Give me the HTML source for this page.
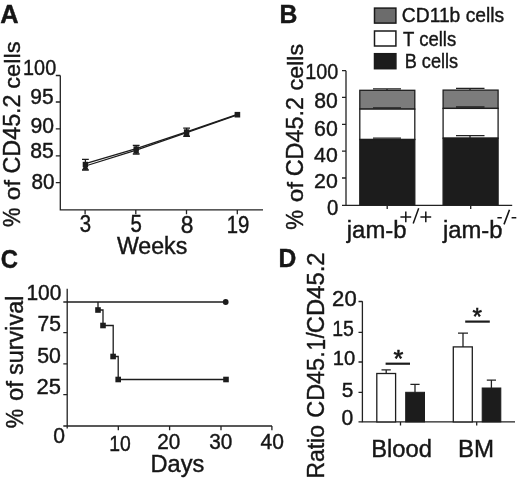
<!DOCTYPE html>
<html>
<head>
<meta charset="utf-8">
<style>
html,body{margin:0;padding:0;background:#fff;}
body{width:520px;height:481px;overflow:hidden;font-family:"Liberation Sans",sans-serif;}
svg{display:block;will-change:transform;filter:grayscale(1);}
text{font-family:"Liberation Sans",sans-serif;fill:#161616;stroke:#161616;stroke-width:0.42px;}
.ax{stroke:#222;stroke-width:1.3;fill:none;}
.d{stroke:#1c1c1c;stroke-width:1.3;fill:none;}
.k{fill:#1c1c1c;}
</style>
</head>
<body>
<svg width="520" height="481" viewBox="0 0 520 481">
<rect width="520" height="481" fill="#fff"/>

<g id="A">
<text transform="translate(0.27,22.90) scale(0.9745,1)" font-size="26.04" font-weight="bold">A</text>
<text transform="translate(19.78,226.96) rotate(-90) scale(0.9205,1)" font-size="23.71">%</text>
<text transform="translate(19.67,200.23) rotate(-90) scale(1.0563,1)" font-size="22.94">of</text>
<text transform="translate(19.67,173.47) rotate(-90) scale(0.9996,1)" font-size="23.32">CD45.2</text>
<text transform="translate(19.67,88.70) rotate(-90) scale(1.0309,1)" font-size="22.86">cells</text>
<path class="ax" d="M60.3,75.5V209.9H263"/>
<path class="ax" d="M55.8,75.5H60.3M55.8,102H60.3M55.8,128.8H60.3M55.8,155.8H60.3M55.8,182.6H60.3"/>
<path class="ax" d="M85.1,209.9V214.2M135.8,209.9V214.2M186.5,209.9V214.2M237.3,209.9V214.2"/>
<text transform="translate(23.11,74.98) scale(0.9100,1)" font-size="21.77">100</text>
<text transform="translate(30.20,104.48) scale(0.9536,1)" font-size="22.05">95</text>
<text transform="translate(30.59,133.28) scale(0.9663,1)" font-size="21.91">90</text>
<text transform="translate(30.30,157.99) scale(0.9941,1)" font-size="21.34">85</text>
<text transform="translate(31.62,189.38) scale(0.9563,1)" font-size="21.63">80</text>
<text transform="translate(79.83,232.07) scale(0.8864,1)" font-size="23.04">3</text>
<text transform="translate(130.48,232.27) scale(0.8738,1)" font-size="23.37">5</text>
<text transform="translate(180.83,232.57) scale(0.9882,1)" font-size="23.04">8</text>
<text transform="translate(226.78,232.57) scale(0.8813,1)" font-size="23.04">19</text>
<text transform="translate(116.88,253.87) scale(0.9966,1)" font-size="23.27">Weeks</text>
<path class="d" stroke-width="1.45" d="M85.4,163.6L136.2,148.6L186.6,131.8L237.4,114.4"/>
<path class="d" stroke-width="1.45" d="M85.4,166L136.2,150.2L186.6,132.7L237.4,114.9"/>
<path class="d" stroke-width="1.5" d="M85.4,159.4V170M82,159.4H88.8M82,170H88.8"/>
<path class="d" stroke-width="1.5" d="M136.2,145.3V154M132.8,145.3H139.6M132.8,154H139.6"/>
<path class="d" stroke-width="1.5" d="M186.6,128.2V136.3M183.2,128.2H190M183.2,136.3H190"/>
<rect class="k" x="82.7" y="161.8" width="5.4" height="5.4"/>
<path class="k" d="M85.4,163L88.6,169.8H82.2Z"/>
<rect class="k" x="133.5" y="146.3" width="5.4" height="5.4"/>
<path class="k" d="M136.2,147L139.4,153.6H133Z"/>
<rect class="k" x="183.9" y="129.3" width="5.4" height="5.4"/>
<path class="k" d="M186.6,130L189.8,136H183.4Z"/>
<rect class="k" x="234.6" y="111.9" width="5.6" height="5.6"/>
</g>
<g id="B">
<text transform="translate(279.43,22.80) scale(0.9615,1)" font-size="25.75" font-weight="bold">B</text>
<text transform="translate(302.98,229.78) rotate(-90) scale(0.9416,1)" font-size="23.57">%</text>
<text transform="translate(302.87,202.33) rotate(-90) scale(1.0563,1)" font-size="22.94">of</text>
<text transform="translate(302.87,176.37) rotate(-90) scale(1.0062,1)" font-size="23.32">CD45.2</text>
<text transform="translate(302.87,90.39) rotate(-90) scale(1.0172,1)" font-size="22.86">cells</text>
<rect x="374.5" y="8.1" width="21.4" height="15" fill="#6c6c6c" stroke="#1a1a1a" stroke-width="1.5"/>
<rect x="374.5" y="31" width="21.4" height="15" fill="#fff" stroke="#1a1a1a" stroke-width="1.5"/>
<rect x="374.5" y="53.7" width="21.4" height="15" fill="#1c1c1c" stroke="#1a1a1a" stroke-width="1.5"/>
<text transform="translate(401.84,22.19) scale(0.9194,1)" font-size="20.95">CD11b cells</text>
<text transform="translate(403.08,45.59) scale(0.8841,1)" font-size="20.95">T cells</text>
<text transform="translate(404.70,68.29) scale(0.8603,1)" font-size="21.09">B cells</text>
<rect x="359.8" y="90.3" width="55" height="18.8" fill="#7c7c7c" stroke="#1e1e1e" stroke-width="1.3"/>
<rect x="359.8" y="109.1" width="55" height="30.4" fill="#fff" stroke="#1e1e1e" stroke-width="1.3"/>
<rect x="359.8" y="139.5" width="55" height="65.8" fill="#1c1c1c" stroke="#1c1c1c" stroke-width="1.3"/>
<rect x="443.1" y="90.1" width="55" height="18.3" fill="#7c7c7c" stroke="#1e1e1e" stroke-width="1.3"/>
<rect x="443.1" y="108.4" width="55" height="29.8" fill="#fff" stroke="#1e1e1e" stroke-width="1.3"/>
<rect x="443.1" y="138.2" width="55" height="67.1" fill="#1c1c1c" stroke="#1c1c1c" stroke-width="1.3"/>
<path class="ax" d="M373,88.8H401M387,88.8V90M373,107.9H401M373,138.2H401"/>
<path class="ax" d="M456,88.3H484.5M470,88.3V90M456,107H484.5M456,135.6H484.5M470,135.6V138"/>
<path class="ax" d="M346,70.7V205.3H512.2"/>
<path class="ax" d="M342,70.7H346M342,97.3H346M342,124.3H346M342,151.1H346M342,178H346M342,205.3H346"/>
<path class="ax" d="M387.2,205.3V209M470.7,205.3V209"/>
<text transform="translate(305.21,78.78) scale(0.8869,1)" font-size="22.33">100</text>
<text transform="translate(314.20,107.88) scale(0.9787,1)" font-size="21.63">80</text>
<text transform="translate(314.03,136.48) scale(0.9859,1)" font-size="21.63">60</text>
<text transform="translate(314.12,161.99) scale(1.0085,1)" font-size="21.06">40</text>
<text transform="translate(314.03,187.69) scale(1.0192,1)" font-size="20.92">20</text>
<text transform="translate(327.09,215.49) scale(0.9582,1)" font-size="21.20">0</text>
<text transform="translate(346.80,237.50) scale(1.0132,1)" font-size="23.59">jam-b</text>
<text transform="translate(443.00,237.50) scale(1.0098,1)" font-size="23.59">jam-b</text>
<path d="M400.4,216.9H411.2M405.8,211.5V222.3M420.4,216.9H431.2M425.8,211.5V222.3M413.2,223.4L418.7,208.3" stroke="#161616" stroke-width="1.5" fill="none"/>
<path d="M497.4,217.8H501.8M511.6,217.8H516.3M504,224.4L509.5,209.8" stroke="#161616" stroke-width="1.6" fill="none"/>
</g>
<g id="C">
<text transform="translate(0.65,267.74) scale(0.9011,1)" font-size="26.43" font-weight="bold">C</text>
<text transform="translate(22.78,428.16) rotate(-90) scale(0.8936,1)" font-size="24.43">%</text>
<text transform="translate(22.66,401.12) rotate(-90) scale(1.0151,1)" font-size="23.62">of</text>
<text transform="translate(22.66,374.94) rotate(-90) scale(0.9941,1)" font-size="23.54">survival</text>
<path class="ax" d="M67.2,288.7V428.5M63.3,426H272"/>
<path class="ax" d="M63.3,302H67.2M63.3,332.6H67.2M63.3,363.9H67.2M63.3,394.7H67.2"/>
<path class="ax" d="M118.3,426V430.3M169.6,426V430.3M221,426V430.3M271.9,426V430.3"/>
<text transform="translate(26.43,299.99) scale(0.9888,1)" font-size="21.20">100</text>
<text transform="translate(37.55,331.47) scale(0.9364,1)" font-size="22.51">75</text>
<text transform="translate(37.25,363.48) scale(0.9602,1)" font-size="22.19">50</text>
<text transform="translate(36.60,394.28) scale(0.9896,1)" font-size="22.19">25</text>
<text transform="translate(53.35,442.98) scale(0.9593,1)" font-size="22.05">0</text>
<text transform="translate(109.35,450.68) scale(0.8947,1)" font-size="21.63">10</text>
<text transform="translate(157.26,449.48) scale(0.9464,1)" font-size="21.91">20</text>
<text transform="translate(209.22,449.48) scale(0.9482,1)" font-size="21.91">30</text>
<text transform="translate(260.43,449.38) scale(0.9607,1)" font-size="21.91">40</text>
<text transform="translate(150.55,472.48) scale(0.9968,1)" font-size="23.69">Days</text>
<path class="d" stroke-width="1.1" d="M67,302H225.5"/>
<circle class="k" cx="225.7" cy="302" r="2.9"/>
<path class="d" stroke-width="1.1" d="M98,302V310H103V325.5H113.2V356.5H118.2V379.5H226"/>
<rect class="k" x="95.2" y="307.2" width="5.6" height="5.6"/>
<rect class="k" x="100.2" y="322.7" width="5.6" height="5.6"/>
<rect class="k" x="110.3" y="353.7" width="5.6" height="5.6"/>
<rect class="k" x="115.4" y="376.7" width="5.6" height="5.6"/>
<rect class="k" x="223.2" y="376.7" width="5.6" height="5.6"/>
</g>
<g id="D">
<text transform="translate(278.54,267.40) scale(0.9469,1)" font-size="26.04" font-weight="bold">D</text>
<text transform="translate(324.36,478.49) rotate(-90) scale(0.9672,1)" font-size="23.67">Ratio</text>
<text transform="translate(324.46,417.77) rotate(-90) scale(0.9618,1)" font-size="24.38">CD45.</text>
<text transform="translate(324.60,350.13) rotate(-90) scale(0.8157,1)" font-size="24.95">1</text>
<text transform="translate(324.06,338.30) rotate(-90) scale(0.9133,1)" font-size="23.67">/</text>
<text transform="translate(324.36,333.19) rotate(-90) scale(0.9818,1)" font-size="24.24">CD45.2</text>
<path class="ax" d="M362.4,301.3V421.9H515"/>
<path class="ax" d="M358.5,301.5H362.4M358.5,332.3H362.4M358.5,362H362.4M358.5,392.3H362.4M358.5,421.9H362.4"/>
<path class="ax" d="M400.5,421.9V425.5M476.7,421.9V425.5"/>
<text transform="translate(332.09,306.08) scale(1.0089,1)" font-size="21.91">20</text>
<text transform="translate(332.24,336.17) scale(0.8607,1)" font-size="22.65">15</text>
<text transform="translate(332.68,365.19) scale(0.9681,1)" font-size="20.92">10</text>
<text transform="translate(341.77,396.99) scale(0.9957,1)" font-size="20.93">5</text>
<text transform="translate(341.55,424.59) scale(0.9911,1)" font-size="21.34">0</text>
<rect x="376.8" y="373.5" width="18.8" height="48.4" fill="#fff" stroke="#1e1e1e" stroke-width="1.3"/>
<rect x="405.7" y="392.3" width="18.8" height="29.6" fill="#1c1c1c" stroke="#1c1c1c" stroke-width="1"/>
<rect x="453.3" y="346.9" width="19" height="75" fill="#fff" stroke="#1e1e1e" stroke-width="1.3"/>
<rect x="482.2" y="388" width="18.6" height="33.9" fill="#1c1c1c" stroke="#1c1c1c" stroke-width="1"/>
<path class="ax" d="M386.2,373.5V369.8M381.5,369.8H390.8"/>
<path class="ax" d="M415,392.3V384.3M410.4,384.3H419.6"/>
<path class="ax" d="M463,346.9V333.2M458,333.2H468"/>
<path class="ax" d="M491.4,388V380.2M486.8,380.2H496"/>
<path d="M385.6,363.7H410" stroke="#1c1c1c" stroke-width="2.2"/>
<path d="M465.2,321.6H489.8" stroke="#1c1c1c" stroke-width="2.2"/>
<text transform="translate(393.56,367.29) scale(1.0318,1)" font-size="24.57" style="stroke-width:0.6px">*</text>
<text transform="translate(472.38,325.49) scale(0.9859,1)" font-size="24.57" style="stroke-width:0.6px">*</text>
<text transform="translate(371.24,457.17) scale(1.0150,1)" font-size="23.40">Blood</text>
<text transform="translate(458.02,457.30) scale(0.9724,1)" font-size="24.73">BM</text>
</g>
</svg>
</body>
</html>
